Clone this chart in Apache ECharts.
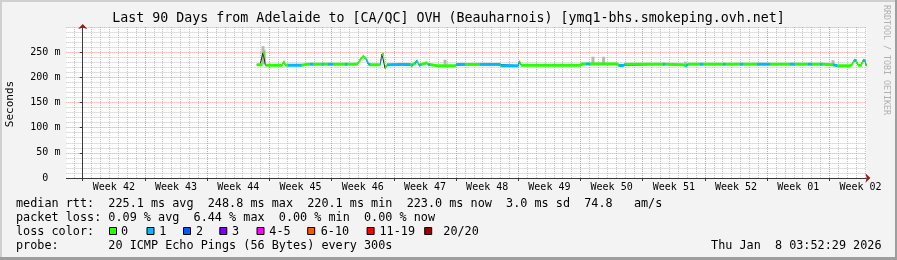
<!DOCTYPE html>
<html>
<head>
<meta charset="utf-8">
<script src="https://cdn.jsdelivr.net/npm/echarts@6/dist/echarts.min.js"></script>
<style>html,body{margin:0;padding:0;background:#f3f3f3}#c{width:897px;height:260px}</style>
</head>
<body>
<div id="c"></div>
<script>
// ---------- data (x = days since Sunday 00:00 starting Week 42) ----------
const X_MIN = -1.838;           // 90 days ending Thu Jan 8 03:52:29
const X_MAX = 88.162;
const WEEK_LABELS = ['Week 42','Week 43','Week 44','Week 45','Week 46','Week 47','Week 48',
                     'Week 49','Week 50','Week 51','Week 52','Week 01','Week 02'];
const Y_LABELS = ['0  ','50 m','100 m','150 m','200 m','250 m'];

const MEDIAN_DAY = [19.57,19.95,20.17,20.28,20.45,20.56,21.50,22.40,22.62,22.80,23.10,24.45,24.60,25.20,25.57,25.91,
  26.92,27.10,27.60,28.16,29.51,29.73,30.86,31.20,31.53,31.87,32.15,32.32,33.45,33.67,33.84,34.01,34.23,35.70,
  36.82,36.99,37.16,37.38,37.61,37.83,38.06,38.70,38.85,39.07,39.82,41.88,42.00,43.00,44.70,45.82,46.95,47.00,
  48.97,49.14,49.31,55.95,56.10,56.62,57.07,60.11,60.30,60.79,61.00,65.28,65.50,67.53,67.87,68.10,69.45,69.79,
  72.04,72.30,73.96,74.29,75.86,77.32,79.57,80.10,81.59,82.04,82.95,83.20,84.41,84.86,86.32,86.55,86.77,87.00,
  87.22,87.56,87.78,88.01,88.15];
const MEDIAN_MS = [225,225,225,248.8,248,224,224,224,231,224,224,224,224,226,226,226,
  226,226,226,226,226,226,226,235,242.5,236,226,225,225,246,246,218,225,225.5,
  225.5,223,226,228,233,224,225.5,229,225,225.5,223,223,225.6,225.6,225.6,225.6,225.6,223,
  223,231.5,224.2,224.2,226.6,226.6,226.6,226.6,223.5,223.5,226,226,226,225,222.5,226,226,226,
  226,226,226,226,226,226,226,226,226,226,226,226,225,223,223,226,234,233,
  224,224,234,233,223];
// lost pings (of 20) from each point until the next one
const MEDIAN_LOSS = [0,0,0,0,0,0,0,0,0,0,1,1,0,0,1,0,
  1,0,1,0,1,0,0,0,0,1,1,0,1,0,0,0,1,1,
  0,1,0,1,0,1,0,0,1,0,0,0,1,0,1,1,0,1,
  1,0,0,0,0,1,0,0,1,1,0,1,0,0,1,0,1,0,
  1,0,1,0,1,0,1,0,1,0,1,0,1,0,0,0,1,0,
  0,0,1,0,0];

const SMOKE_DAY = [20.28,20.40,40.76,57.40,58.60,67.80,84.40];
const SMOKE_LO  = [226,226,225,226,226,225,226];
const SMOKE_HI  = [262,255,235,241,241,231,234];

const LOSS_LABELS = ['0','1','2','3','4-5','6-10','11-19','20/20'];
const LOSS_COLORS = ['#26ff00','#00b8ff','#0059ff','#7e00ff','#ff00ff','#ff5500','#ff0000','#a10000'];

const TITLE = 'Last 90 Days from Adelaide to [CA/QC] OVH (Beauharnois) [ymq1-bhs.smokeping.ovh.net]';
const STAT_LINES = [
  'median rtt:  225.1 ms avg  248.8 ms max  220.1 ms min  223.0 ms now  3.0 ms sd  74.8   am/s',
  'packet loss: 0.09 % avg  6.44 % max  0.00 % min  0.00 % now',
  'loss color:',
  'probe:       20 ICMP Echo Pings (56 Bytes) every 300s'
];
const DATE_TEXT = 'Thu Jan  8 03:52:29 2026';

// ---------- layout ----------
const PLOT_L = 66.4, PLOT_R = 866.4, PLOT_T = 27, PLOT_B = 178, W = 897, H = 260;
const PX_PER_DAY = (PLOT_R - PLOT_L) / (X_MAX - X_MIN);
const D0 = Math.ceil(X_MIN), D1 = Math.floor(X_MAX);             // first/last midnight
const W0 = Math.ceil(X_MIN / 7) * 7, W1 = Math.floor(X_MAX / 7) * 7; // first/last week start
const dayGridL = PLOT_L + (D0 - X_MIN) * PX_PER_DAY, dayGridR = PLOT_L + (D1 - X_MIN) * PX_PER_DAY;
const wkGridL = PLOT_L + (W0 - X_MIN) * PX_PER_DAY, wkGridR = PLOT_L + (W1 - X_MIN) * PX_PER_DAY;
const weekCenters = WEEK_LABELS.map((_, k) => W0 + k * 7 + 3.5);

function lossIndex(n) { if (n <= 3) return n; if (n <= 5) return 4; if (n <= 10) return 5; if (n <= 19) return 6; return 7; }
const bandData = [];
for (let i = 0; i < MEDIAN_DAY.length - 1; i++) {
  bandData.push([MEDIAN_DAY[i], MEDIAN_MS[i], MEDIAN_DAY[i + 1], MEDIAN_MS[i + 1], lossIndex(MEDIAN_LOSS[i])]);
}

const MONO = '"DejaVu Sans Mono", monospace';
const minorGrid = { color: '#c4c4c4', type: [1, 1], width: 1 };
const majorGrid = { color: '#ff8c8c', type: [1, 1], width: 1 };
const axisCol = '#3a3a3a';
const arrowCol = '#9b1b1b';

// ---------- graphic texts ----------
const g = [
  { type: 'rect', silent: true, shape: { x: 0, y: 0, width: W, height: 2 }, style: { fill: '#cfcfcf' } },
  { type: 'rect', silent: true, shape: { x: 0, y: 0, width: 2, height: H }, style: { fill: '#cfcfcf' } },
  { type: 'rect', silent: true, shape: { x: 0, y: H - 3, width: W, height: 3 }, style: { fill: '#9e9e9e' } },
  { type: 'rect', silent: true, shape: { x: W - 2, y: 0, width: 2, height: H }, style: { fill: '#9e9e9e' } },
  { type: 'text', silent: true, x: 448.5, y: 19, style: { text: TITLE, font: '13.3px ' + MONO, fill: '#000', align: 'center', verticalAlign: 'middle' } },
  { type: 'text', silent: true, x: 10, y: 104, rotation: Math.PI / 2, style: { text: 'Seconds', font: '11px ' + MONO, fill: '#000', align: 'center', verticalAlign: 'middle' } },
  { type: 'text', silent: true, x: 886, y: 60, rotation: -Math.PI / 2, style: { text: 'RRDTOOL / TOBI OETIKER', font: '8.3px ' + MONO, fill: '#b0b0b0', align: 'center', verticalAlign: 'middle' } },
  { type: 'text', silent: true, x: 881.5, y: 246.3, style: { text: DATE_TEXT, font: '11.8px ' + MONO, fill: '#000', align: 'right', verticalAlign: 'middle' } }
];
const rowY = [204.3, 218.3, 232.3, 246.3];
STAT_LINES.forEach((t, i) => g.push({ type: 'text', silent: true, x: 16, y: rowY[i], style: { text: t, font: '11.8px ' + MONO, fill: '#000', align: 'left', verticalAlign: 'middle' } }));
const boxX = [109, 146.5, 183, 219.3, 256.5, 307.2, 366.6, 424.2];
const txtX = [121, 159.3, 196, 232, 269.3, 320.7, 379.5, 443.3];
LOSS_LABELS.forEach((t, i) => {
  g.push({ type: 'rect', silent: true, shape: { x: boxX[i] + 0.5, y: 227.5, width: 7, height: 7 }, style: { fill: LOSS_COLORS[i], stroke: '#000', lineWidth: 1 } });
  g.push({ type: 'text', silent: true, x: txtX[i], y: rowY[2], style: { text: t, font: '11.8px ' + MONO, fill: '#000', align: 'left', verticalAlign: 'middle' } });
});

const hiddenAxis = { axisLine: { show: false }, axisTick: { show: false }, axisLabel: { show: false }, splitLine: { show: false } };
const gridBox = (l, r, extra) => Object.assign({ left: l, right: W - r, top: PLOT_T, bottom: H - PLOT_B, show: false }, extra || {});

const chart = echarts.init(document.getElementById('c'), null, { renderer: 'canvas' });
chart.setOption({
  animation: false,
  backgroundColor: '#f3f3f3',
  grid: [
    gridBox(PLOT_L, PLOT_R, { show: true, backgroundColor: '#ffffff', borderWidth: 0 }),
    gridBox(dayGridL, dayGridR),
    gridBox(wkGridL, wkGridR)
  ],
  xAxis: [
    { gridIndex: 0, type: 'value', min: X_MIN, max: X_MAX, position: 'bottom', z: 3,
      axisLine: { show: true, onZero: false, lineStyle: { color: axisCol, width: 1 } },
      axisTick: { show: false },
      axisLabel: { show: true, customValues: weekCenters, margin: 4, fontFamily: MONO, fontSize: 10, color: '#000',
        formatter: v => WEEK_LABELS[Math.round((v - W0 - 3.5) / 7)] || '' },
      splitLine: { show: false } },
    { gridIndex: 0, type: 'value', min: X_MIN, max: X_MAX, position: 'bottom', z: 3,
      axisLine: { show: true, onZero: false, symbol: ['none', 'arrow'], symbolSize: [7, 5], symbolOffset: [0, 4],
        lineStyle: { color: arrowCol, opacity: 0 } },
      axisTick: { show: false }, axisLabel: { show: false }, splitLine: { show: false } },
    Object.assign({ gridIndex: 1, type: 'value', min: 0, max: D1 - D0, interval: 1, z: 0 }, hiddenAxis,
      { splitLine: { show: true, lineStyle: minorGrid } }),
    Object.assign({ gridIndex: 2, type: 'value', min: 0, max: W1 - W0, interval: 7, z: 1 }, hiddenAxis,
      { axisTick: { show: true, length: 3, lineStyle: { color: axisCol } }, splitLine: { show: true, lineStyle: majorGrid } })
  ],
  yAxis: [
    { gridIndex: 0, type: 'value', min: 0, max: 300, interval: 50, position: 'left', z: 1,
      axisLine: { show: true, lineStyle: { color: axisCol, width: 1 } },
      axisTick: { show: true, length: 3, lineStyle: { color: axisCol } },
      axisLabel: { margin: 6, fontFamily: MONO, fontSize: 10, color: '#000',
        formatter: v => (v === 300 ? '' : Y_LABELS[Math.round(v / 50)]) },
      splitLine: { show: true, lineStyle: majorGrid },
      minorTick: { show: false, splitNumber: 5 },
      minorSplitLine: { show: true, lineStyle: minorGrid } },
    { gridIndex: 0, type: 'value', min: 0, max: 300, position: 'left', z: 3,
      axisLine: { show: true, symbol: ['none', 'arrow'], symbolSize: [7, 5], symbolOffset: [0, 3],
        lineStyle: { color: arrowCol, opacity: 0 } },
      axisTick: { show: false }, axisLabel: { show: false }, splitLine: { show: false } },
    Object.assign({ gridIndex: 1, type: 'value', min: 0, max: 300 }, hiddenAxis),
    Object.assign({ gridIndex: 2, type: 'value', min: 0, max: 300 }, hiddenAxis)
  ],
  series: [
    { type: 'custom', xAxisIndex: 0, yAxisIndex: 0, z: 2, clip: true,
      data: SMOKE_DAY.map((d, i) => [d, SMOKE_LO[i], SMOKE_HI[i]]),
      encode: { x: 0, y: [1, 2] },
      renderItem: function (params, api) {
        const lo = api.coord([api.value(0), api.value(1)]);
        const hi = api.coord([api.value(0), api.value(2)]);
        return { type: 'rect', shape: { x: lo[0] - 1.5, y: hi[1], width: 3, height: lo[1] - hi[1] }, style: { fill: '#b8b8b8' } };
      } },
    { type: 'line', xAxisIndex: 0, yAxisIndex: 0, z: 3, showSymbol: false, symbol: 'none',
      lineStyle: { width: 1, color: '#202020' },
      data: MEDIAN_DAY.map((d, i) => [d, MEDIAN_MS[i]]) },
    { type: 'custom', xAxisIndex: 0, yAxisIndex: 0, z: 4, clip: true,
      data: bandData,
      encode: { x: [0, 2], y: [1, 3] },
      renderItem: function (params, api) {
        const a = api.coord([api.value(0), api.value(1)]);
        const b = api.coord([api.value(2), api.value(3)]);
        const h = 1.5;
        return { type: 'polygon',
          shape: { points: [[a[0], a[1] - h], [b[0] + 0.4, b[1] - h], [b[0] + 0.4, b[1] + h], [a[0], a[1] + h]] },
          style: { fill: LOSS_COLORS[api.value(4)] } };
      } }
  ],
  graphic: g
});
</script>
</body>
</html>
